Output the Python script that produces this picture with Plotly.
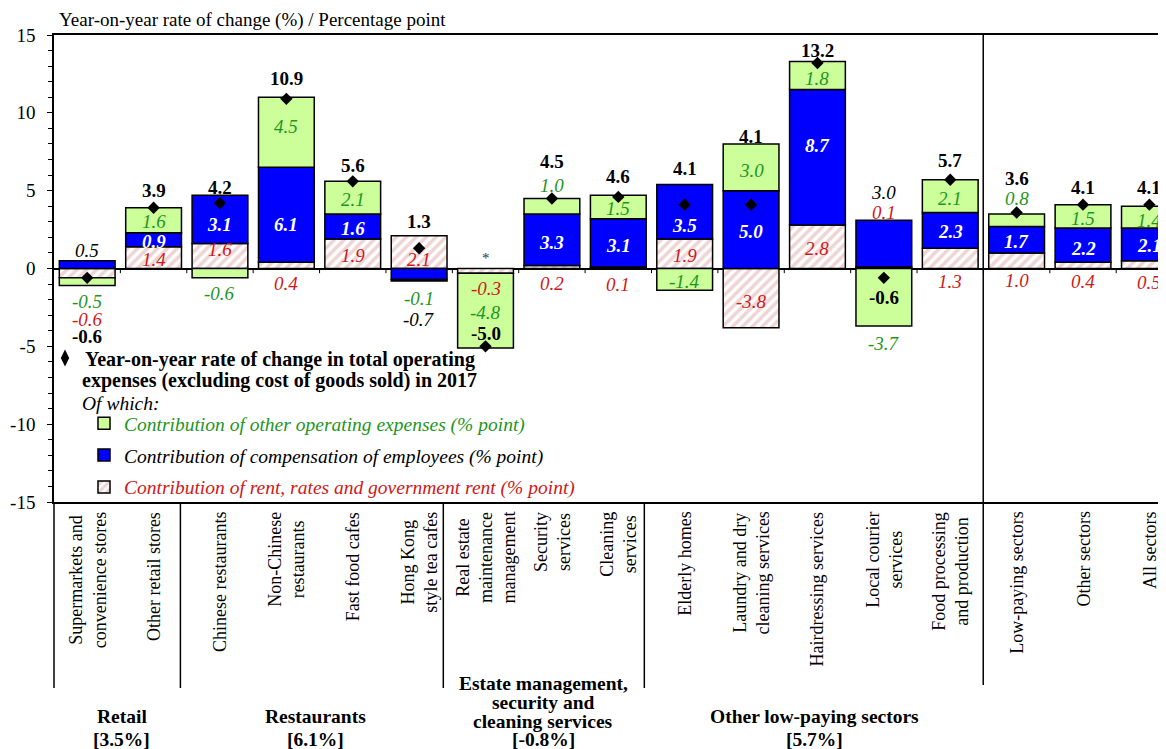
import plotly.graph_objects as go

# ---------------- data ----------------
categories = [
    "Supermarkets and<br>convenience stores", "Other retail stores", "Chinese restaurants",
    "Non-Chinese<br>restaurants", "Fast food cafes", "Hong Kong<br>style tea cafes",
    "Real estate<br>maintenance<br>management", "Security<br>services", "Cleaning<br>services",
    "Elderly homes", "Laundry and dry<br>cleaning services", "Hairdressing services",
    "Local courier<br>services", "Food processing<br>and production",
    "Low-paying sectors", "Other sectors", "All sectors",
]
rent = [-0.6, 1.4, 1.6, 0.4, 1.9, 2.1, -0.3, 0.2, 0.1, 1.9, -3.8, 2.8, 0.1, 1.3, 1.0, 0.4, 0.5]
compensation = [0.5, 0.9, 3.1, 6.1, 1.6, -0.7, None, 3.3, 3.1, 3.5, 5.0, 8.7, 3.0, 2.3, 1.7, 2.2, 2.1]
other_exp = [-0.5, 1.6, -0.6, 4.5, 2.1, -0.1, -4.8, 1.0, 1.5, -1.4, 3.0, 1.8, -3.7, 2.1, 0.8, 1.5, 1.4]
total = [-0.6, 3.9, 4.2, 10.9, 5.6, 1.3, -5.0, 4.5, 4.6, 4.1, 4.1, 13.2, -0.6, 5.7, 3.6, 4.1, 4.1]
negligible_mark = "*"

y_tick_values = [-15, -10, -5, 0, 5, 10, 15]
y_tick_labels = ["-15", "-10", "-5", "0", "5", "10", "15"]

group_lines = [
    ["Retail", "[3.5%]"],
    ["Restaurants", "[6.1%]"],
    ["Estate management,", "security and", "cleaning services", "[-0.8%]"],
    ["Other low-paying sectors", "[5.7%]"],
]

title_text = "Year-on-year rate of change (%) / Percentage point"
legend_total_lines = ["Year-on-year rate of change in total operating",
                      "expenses (excluding cost of goods sold) in 2017"]
legend_other = "Contribution of other operating expenses (% point)"
legend_comp = "Contribution of compensation of employees (% point)"
legend_rent = "Contribution of rent, rates and government rent (% point)"

# ---------------- styles / layout geometry ----------------
FONT = "Liberation Serif, Times New Roman, serif"
GREEN_FILL = "#CCFF99"
BLUE_FILL = "#0000FF"
GREEN_TXT = "#1E961E"
RED_TXT = "#D01818"
HATCH = "#DFA9A9"

OFF = 8                      # page body margin of the browser
W, H = 1166 - OFF, 749 - OFF
PLOT_L, PLOT_T, PLOT_B = 54, 35, 502   # reference-screen pixels
L, R, T, B = PLOT_L - OFF, 0, PLOT_T - OFF, H - (PLOT_B - OFF)
PW, PH = W - L - R, PLOT_B - PLOT_T


def ypaper(px):
    return (PLOT_B - px) / PH


def xpaper(px):
    return (px - PLOT_L) / PW


def xcont(px):
    return (px - OFF) / W


def ycont(px):
    return 1 - (px - OFF) / H


group_centers = [0.52, 3.44, 6.87, 10.95]
group_line_y = [[716, 740], [716, 740], [683, 702, 721, 740], [716, 740]]
separators = [1.404, 5.364, 8.392]
full_separator = 13.497

# label placement: (series, cat) -> (anchor, offset)
place = {
    ("comp", 0): ("top", 0.65), ("other", 0): ("bot", 1.0), ("rent", 0): ("bot", 2.15), ("total", 0): ("bot", 3.3),
    ("total", 1): ("top", 1.13),
    ("rent", 2): ("mid", 0.45), ("comp", 2): ("mid", -0.3), ("other", 2): ("bot", 1.0), ("total", 2): ("top", 0.5),
    ("rent", 3): ("zero", 0.95), ("comp", 3): ("mid", -0.65), ("other", 3): ("mid", 0.35), ("total", 3): ("top", 1.2),
    ("rent", 4): ("mid", -0.1), ("comp", 4): ("mid", -0.1), ("other", 4): ("mid", -0.1), ("total", 4): ("top", 1.0),
    ("rent", 5): ("mid", -0.5), ("comp", 5): ("bot", 2.45), ("other", 5): ("bot", 1.1), ("total", 5): ("top", 0.9),
    ("comp", 6): ("top", 0.68), ("rent", 6): ("zero", 1.3), ("other", 6): ("zero", 2.85), ("total", 6): ("zero", 4.2),
    ("rent", 7): ("zero", 0.95), ("comp", 7): ("mid", -0.2), ("other", 7): ("top", 0.85), ("total", 7): ("top", 2.35),
    ("rent", 8): ("zero", 1.0), ("comp", 8): ("mid", -0.15), ("other", 8): ("mid", -0.08), ("total", 8): ("top", 1.19),
    ("rent", 9): ("mid", -0.1), ("comp", 9): ("mid", -0.9), ("other", 9): ("mid", -0.16), ("total", 9): ("top", 1.04),
    ("rent", 10): ("mid", -0.2), ("other", 10): ("mid", -0.18), ("total", 10): ("top", 0.46),
    ("rent", 11): ("mid", -0.1), ("comp", 11): ("mid", 0.77), ("other", 11): ("mid", -0.2), ("total", 11): ("top", 0.73),
    ("comp", 12): ("top", 1.8), ("rent", 12): ("top", 0.52), ("other", 12): ("bot", 1.1), ("total", 12): ("zero", 1.89),
    ("rent", 13): ("zero", 0.82), ("other", 13): ("mid", -0.13), ("total", 13): ("top", 1.26),
    ("rent", 14): ("zero", 0.8), ("other", 14): ("top", 1.02), ("total", 14): ("top", 2.3),
    ("rent", 15): ("zero", 0.85), ("comp", 15): ("mid", -0.2), ("other", 15): ("mid", -0.12), ("total", 15): ("top", 1.13),
    ("rent", 16): ("zero", 0.9), ("other", 16): ("mid", -0.2), ("total", 16): ("top", 1.23),
}

LBL = 19
fig = go.Figure()

bar_line = dict(color="black", width=1.5)
fig.add_trace(go.Bar(
    x=categories, y=rent, name=f"<i><span style='color:{RED_TXT}'>{legend_rent}</span></i>",
    marker=dict(color="white", line=bar_line,
                pattern=dict(shape="/", fgcolor=HATCH, bgcolor="white", size=7, solidity=0.5)),
    legend="legend2", legendgroup="c", legendrank=3, hoverinfo="skip"))
fig.add_trace(go.Bar(
    x=categories, y=compensation, name=f"<i>{legend_comp}</i>",
    marker=dict(color=BLUE_FILL, line=bar_line),
    legend="legend2", legendgroup="b", legendrank=2, hoverinfo="skip"))
fig.add_trace(go.Bar(
    x=categories, y=other_exp, name=f"<i><span style='color:{GREEN_TXT}'>{legend_other}</span></i>",
    marker=dict(color=GREEN_FILL, line=bar_line),
    legend="legend2", legendgroup="a", legendrank=1, hoverinfo="skip"))
fig.add_trace(go.Scatter(
    x=categories, y=total, mode="markers", showlegend=False,
    marker=dict(symbol="diamond", size=9.5, color="black"), hoverinfo="skip"))
fig.add_trace(go.Scatter(
    x=[None], y=[None], mode="markers", name=f"<b>{legend_total_lines[0]}</b>",
    marker=dict(symbol="diamond-tall", size=12, color="black"), legend="legend"))

# ---- compute stacked segment extents and label positions ----
annotations = []
series = [("rent", rent), ("comp", compensation), ("other", other_exp)]
for i in range(len(categories)):
    pos, neg = 0.0, 0.0
    segs = {}
    for key, vals in series:
        v = vals[i]
        if v is None:
            segs[key] = (0.0, 0.0, None)
            continue
        if v >= 0:
            segs[key] = (pos, pos + v, v)
            pos += v
        else:
            segs[key] = (neg + v, neg, v)
            neg += v
    top, bot = pos, neg

    def ypos(key, lo_hi):
        mode, off = place.get((key, i), ("mid", -0.1))
        if mode == "mid":
            return (lo_hi[0] + lo_hi[1]) / 2 + off
        if mode == "top":
            return top + off
        if mode == "bot":
            return bot - off
        return -off

    for key, vals in series:
        lo, hi, v = segs[key]
        if key == "comp" and v is None:
            annotations.append(dict(x=i, y=ypos(key, (lo, hi)), text=negligible_mark, showarrow=False,
                                    font=dict(size=15, color="#333333", family=FONT)))
            continue
        txt = f"{v:.1f}"
        mode = place.get((key, i), ("mid", 0))[0]
        if key == "rent":
            font = dict(size=LBL, color=RED_TXT, family=FONT)
            txt = f"<i>{txt}</i>"
        elif key == "other":
            font = dict(size=LBL, color=GREEN_TXT, family=FONT)
            txt = f"<i>{txt}</i>"
        else:
            if mode == "mid":
                font = dict(size=LBL, color="white", family=FONT)
                txt = f"<b><i>{txt}</i></b>"
            else:
                font = dict(size=LBL, color="black", family=FONT)
                txt = f"<i>{txt}</i>"
        annotations.append(dict(x=i, y=ypos(key, (lo, hi)), text=txt, showarrow=False, font=font))
    annotations.append(dict(x=i, y=ypos("total", (0, 0)), text=f"<b>{total[i]:.1f}</b>", showarrow=False,
                            font=dict(size=LBL, color="black", family=FONT)))

# category labels (rotated)
for i, c in enumerate(categories):
    annotations.append(dict(x=i, xref="x", y=ypaper(510), yref="paper", text=c, textangle=-90,
                            yanchor="top", xanchor="center", align="center", showarrow=False,
                            font=dict(size=18, family=FONT, color="black")))
# group labels (one annotation per line)
for lines, gx, ys in zip(group_lines, group_centers, group_line_y):
    for ln, gy in zip(lines, ys):
        annotations.append(dict(x=gx, xref="x", y=ypaper(gy), yref="paper", text=f"<b>{ln}</b>",
                                yanchor="middle", xanchor="center", showarrow=False,
                                font=dict(size=19.5, family=FONT, color="black")))
# axis title
annotations.append(dict(x=xpaper(57), xref="paper", y=ypaper(20), yref="paper",
                        text=title_text, xanchor="left", yanchor="middle", showarrow=False,
                        font=dict(size=19, family=FONT, color="black")))
# second line of the diamond legend entry and "Of which:"
annotations.append(dict(x=xpaper(80), xref="paper", y=ypaper(380), yref="paper",
                        text=f"<b>{legend_total_lines[1]}</b>", xanchor="left", yanchor="middle",
                        showarrow=False, font=dict(size=20, family=FONT, color="black")))
annotations.append(dict(x=xpaper(80), xref="paper", y=ypaper(403), yref="paper",
                        text="<i>Of which:</i>", xanchor="left", yanchor="middle", showarrow=False,
                        font=dict(size=19.5, family=FONT, color="black")))

shapes = []
for k in range(len(categories) - 1):
    shapes.append(dict(type="line", xref="x", yref="y", x0=k + 0.5, x1=k + 0.5, y0=0, y1=-0.3,
                       line=dict(color="black", width=1)))
shapes.append(dict(type="line", xref="paper", yref="paper", x0=0, x1=0, y0=0, y1=ypaper(688),
                   line=dict(color="black", width=1.5)))
for s in separators:
    shapes.append(dict(type="line", xref="x", yref="paper", x0=s, x1=s, y0=0, y1=ypaper(688),
                       line=dict(color="black", width=1.5)))
shapes.append(dict(type="line", xref="x", yref="paper", x0=full_separator, x1=full_separator,
                   y0=1, y1=ypaper(685), line=dict(color="black", width=1.5)))

fig.update_layout(
    width=W, height=H,
    margin=dict(l=L, r=R, t=T, b=B, autoexpand=False),
    paper_bgcolor="white", plot_bgcolor="white",
    barmode="relative", bargap=0.16,
    font=dict(family=FONT, size=19, color="black"),
    annotations=annotations, shapes=shapes,
    showlegend=True,
    legend=dict(xref="container", x=xcont(45), yref="container", y=ycont(338.5),
                xanchor="left", yanchor="top",
                bgcolor="rgba(0,0,0,0)", font=dict(size=20, family=FONT, color="black"),
                itemwidth=30),
    legend2=dict(xref="container", x=xcont(84), yref="container", y=ycont(404),
                 xanchor="left", yanchor="top", traceorder="grouped", tracegroupgap=3.5,
                 bgcolor="rgba(0,0,0,0)", font=dict(size=19.5, family=FONT, color="black"),
                 itemwidth=30),
)
fig.update_xaxes(type="category", range=[-0.5, 16.25], showticklabels=False, ticks="",
                 showline=True, mirror=True, linecolor="black", linewidth=1.5, showgrid=False,
                 zeroline=False, fixedrange=True)
fig.update_yaxes(range=[-15, 15], tickmode="array", tickvals=y_tick_values, ticktext=y_tick_labels,
                 ticks="outside", ticklen=5, tickwidth=1,
                 tickcolor="black", showline=True, linecolor="black", linewidth=1.5,
                 showgrid=False, zeroline=True, zerolinecolor="black", zerolinewidth=1.5,
                 minor=dict(tickmode="linear", tick0=0, dtick=1, ticks="outside", ticklen=4,
                            tickcolor="black", showgrid=False),
                 tickfont=dict(size=19, family=FONT), ticklabelstandoff=8, fixedrange=True)

fig.write_html("out.html")
